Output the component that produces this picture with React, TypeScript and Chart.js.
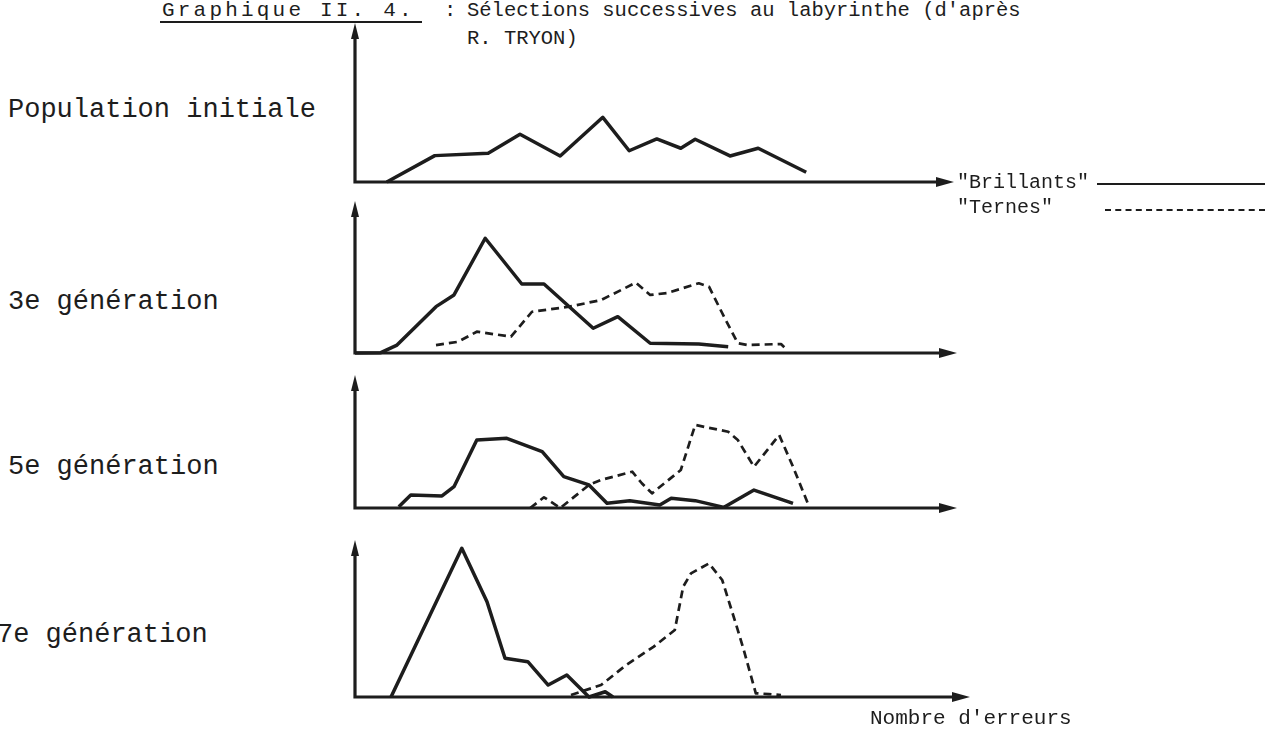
import React, { useEffect, useRef } from "react";
import { Chart, registerables } from "chart.js";

Chart.register(...registerables);

// ---- Data (x: error-count axis, 0–100 ; y: relative frequency, 0–100 per panel) ----
const populationX = [5.3, 13.3, 22.2, 27.5, 34.2, 41.3, 45.7, 50.3, 54.3, 56.7, 62.5, 67.2, 75.2];
const populationY = [0, 16.8, 18.3, 30.4, 16.6, 41.2, 19.9, 27.4, 21.5, 27.2, 16.6, 21.5, 6.2];

const gen3BrillantsX = [0, 4.3, 7.0, 13.5, 16.5, 21.7, 27.8, 31.5, 39.7, 43.8, 49.2, 57.3, 62.2];
const gen3BrillantsY = [0, 0.2, 5.3, 30.9, 38.7, 76.5, 46, 46, 16.5, 24.2, 6.5, 6, 4.2];
const gen3TernesX = [13.5, 17.2, 20.3, 26, 29.5, 35.7, 41, 46.8, 49.2, 52, 57.3, 59, 61.5, 63.8, 65.5, 71, 72];
const gen3TernesY = [5.3, 7.5, 14.2, 10.9, 27.5, 30.9, 35.3, 46.9, 38.7, 40, 46.5, 44.2, 24.2, 6.5, 5.3, 6, 2];

const gen5BrillantsX = [7.3, 9.3, 14.5, 16.5, 20.3, 25.3, 31.2, 34.8, 39, 42, 45.8, 50.8, 52.7, 56.7, 61.5, 66.5, 73];
const gen5BrillantsY = [1, 9.9, 9.2, 16.3, 51.9, 53.2, 43, 23.9, 17.6, 3.6, 5.6, 2.3, 7.4, 5.6, 0.5, 13.7, 3.6];
const gen5TernesX = [29.2, 31.5, 34.2, 39, 41, 46.2, 47.8, 49.5, 54.3, 56.7, 62.2, 63.8, 66.5, 70.7, 73, 75.7];
const gen5TernesY = [0, 8.2, 0, 17.6, 21.4, 27.7, 18.9, 11.2, 29, 63.4, 58.2, 51.9, 31.5, 55.7, 31.5, 1];

const gen7BrillantsX = [6, 17.8, 22, 25, 28.8, 32.2, 35.3, 39, 41.7, 43];
const gen7BrillantsY = [0, 95.9, 61.5, 25, 22.8, 7.7, 14.2, 0, 3.4, 0];
const gen7TernesX = [36, 41, 45.2, 49.8, 53.3, 54.7, 56, 59, 61.2, 63.8, 64.8, 66.8, 69, 71];
const gen7TernesY = [1.3, 7.7, 20.6, 32.5, 43.2, 71.2, 79.8, 86.2, 75.5, 43.2, 30.3, 2.4, 1.9, 1.3];

const panelLabels = ["Population initiale", "3e génération", "5e génération", "7e génération"];
const titleHead = "Graphique II. 4.";
const titleColon = ":";
const titleLine1 = "Sélections successives au labyrinthe (d'après";
const titleLine2 = "R. TRYON)";
const legendLabels = ['"Brillants"', '"Ternes"'];
const xAxisLabel = "Nombre d'erreurs";

// ---- Layout / style ----
const INK = "#1d1d1d";
const FONT = "'Liberation Mono', 'DejaVu Sans Mono', monospace";
const PLOT_LEFT = 355;
const PLOT_WIDTH = 600;
const PAD = 12;

type Series = { x: number[]; y: number[]; dashed: boolean };
type Panel = { top: number; height: number; arrowExtra: number; series: Series[] };

const panels: Panel[] = [
  { top: 25, height: 157, arrowExtra: -3, series: [{ x: populationX, y: populationY, dashed: false }] },
  {
    top: 203, height: 150, arrowExtra: 0,
    series: [
      { x: gen3BrillantsX, y: gen3BrillantsY, dashed: false },
      { x: gen3TernesX, y: gen3TernesY, dashed: true },
    ],
  },
  {
    top: 377, height: 131, arrowExtra: 0,
    series: [
      { x: gen5BrillantsX, y: gen5BrillantsY, dashed: false },
      { x: gen5TernesX, y: gen5TernesY, dashed: true },
    ],
  },
  {
    top: 542, height: 155, arrowExtra: 13,
    series: [
      { x: gen7BrillantsX, y: gen7BrillantsY, dashed: false },
      { x: gen7TernesX, y: gen7TernesY, dashed: true },
    ],
  },
];

function axesPlugin(extra: number) {
  return {
    id: "arrowAxes",
    beforeDatasetsDraw(chart: any) {
      const { ctx, scales } = chart;
      const xs = scales.x;
      const ys = scales.y;
      const x0 = xs.getPixelForValue(0);
      const y0 = ys.getPixelForValue(0);
      const yTop = ys.getPixelForValue(100);
      const xEnd = xs.getPixelForValue(100) + extra;
      ctx.save();
      ctx.strokeStyle = INK;
      ctx.fillStyle = INK;
      ctx.lineWidth = 3.2;
      ctx.lineCap = "butt";
      ctx.beginPath();
      ctx.moveTo(x0, y0 + 1.6);
      ctx.lineTo(x0, yTop + 10);
      ctx.moveTo(x0 - 1.6, y0);
      ctx.lineTo(xEnd - 12, y0);
      ctx.stroke();
      ctx.beginPath();
      ctx.moveTo(x0, yTop - 2);
      ctx.lineTo(x0 - 4, yTop + 14);
      ctx.lineTo(x0 + 4, yTop + 14);
      ctx.closePath();
      ctx.fill();
      ctx.beginPath();
      ctx.moveTo(xEnd + 2, y0);
      ctx.lineTo(xEnd - 16, y0 - 5);
      ctx.lineTo(xEnd - 16, y0 + 5);
      ctx.closePath();
      ctx.fill();
      ctx.restore();
    },
  };
}

function PanelChart({ panel }: { panel: Panel }) {
  const ref = useRef<HTMLCanvasElement>(null);
  const rightPad = PAD + Math.max(panel.arrowExtra, 0) + 8;
  const width = PAD + PLOT_WIDTH + rightPad;
  const height = panel.height + 2 * PAD;

  useEffect(() => {
    const canvas = ref.current;
    if (!canvas) return;
    const chart = new Chart(canvas, {
      type: "line",
      data: {
        datasets: panel.series.map((s) => ({
          data: s.x.map((x, i) => ({ x, y: s.y[i] })),
          borderColor: INK,
          borderWidth: s.dashed ? 2.7 : 3.5,
          borderDash: s.dashed ? [8, 5] : [],
          borderJoinStyle: "round",
          pointRadius: 0,
          tension: 0,
          fill: false,
          clip: false,
        })) as any,
      },
      options: {
        responsive: false,
        animation: false,
        devicePixelRatio: 1,
        events: [],
        layout: { padding: { left: PAD, right: rightPad, top: PAD, bottom: PAD } },
        plugins: { legend: { display: false }, tooltip: { enabled: false }, title: { display: false } },
        scales: {
          x: { type: "linear", min: 0, max: 100, display: false },
          y: { type: "linear", min: 0, max: 100, display: false },
        },
      },
      plugins: [axesPlugin(panel.arrowExtra)],
    });
    return () => chart.destroy();
  }, [panel]);

  return (
    <canvas
      ref={ref}
      width={width}
      height={height}
      style={{ position: "absolute", left: PLOT_LEFT - PAD, top: panel.top - PAD, width, height }}
    />
  );
}

const textBase: React.CSSProperties = {
  position: "absolute",
  fontFamily: FONT,
  color: INK,
  whiteSpace: "pre",
};

const labelStyle: React.CSSProperties = { ...textBase, fontSize: 27, lineHeight: "27px" };
const smallStyle: React.CSSProperties = { ...textBase, fontSize: 20.5, lineHeight: "21px" };

const labelTops = [97, 289, 454, 622];
const labelLefts = [8, 8, 8, -3];

export default function App() {
  return (
    <div
      style={{
        position: "fixed",
        left: 0,
        top: 0,
        width: 1265,
        height: 735,
        background: "#ffffff",
        overflow: "hidden",
      }}
    >
      <div style={{ ...smallStyle, fontSize: 21, left: 162, top: 0, letterSpacing: 3.2 }}>{titleHead}</div>
      <div style={{ position: "absolute", left: 160, top: 21, width: 262, height: 2, background: INK }} />
      <div style={{ ...smallStyle, left: 444, top: 0 }}>{titleColon}</div>
      <div style={{ ...smallStyle, left: 467, top: 0 }}>{titleLine1}</div>
      <div style={{ ...smallStyle, left: 467, top: 28 }}>{titleLine2}</div>

      {panelLabels.map((l, i) => (
        <div key={l} style={{ ...labelStyle, left: labelLefts[i], top: labelTops[i] }}>
          {l}
        </div>
      ))}

      {panels.map((p, i) => (
        <PanelChart key={i} panel={p} />
      ))}

      <div style={{ ...smallStyle, fontSize: 20, left: 957, top: 172 }}>{legendLabels[0]}</div>
      <div style={{ position: "absolute", left: 1097, top: 183, width: 168, height: 0, borderTop: `2px solid ${INK}` }} />
      <div style={{ ...smallStyle, fontSize: 20, left: 957, top: 197 }}>{legendLabels[1]}</div>
      <div style={{ position: "absolute", left: 1105, top: 209, width: 160, height: 0, borderTop: `2px dashed ${INK}` }} />

      <div style={{ ...smallStyle, fontSize: 21, left: 870, top: 708 }}>{xAxisLabel}</div>
    </div>
  );
}
